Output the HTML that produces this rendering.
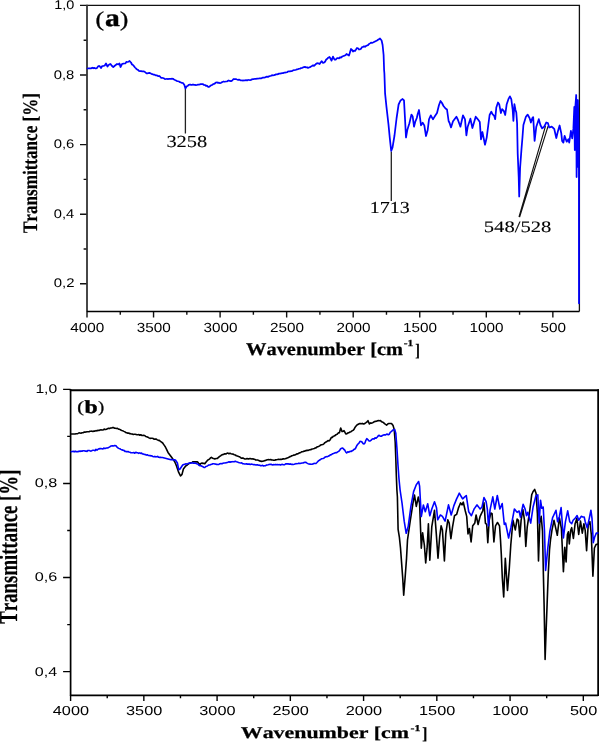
<!DOCTYPE html>
<html><head><meta charset="utf-8"><title>FTIR spectra</title><style>
html,body{margin:0;padding:0;background:#fff;width:599px;height:742px;overflow:hidden}
svg{display:block;will-change:transform}
text{fill:#000;font-kerning:none;text-rendering:geometricPrecision}
</style></head><body>
<svg width="599" height="742" viewBox="0 0 599 742">
<path d="M80 75H87 M80 144.6H87 M80 214.2H87 M80 283.8H87 M80 5.4H87 M83.6 40.2H87 M83.6 109.8H87 M83.6 179.4H87 M83.6 249H87 M87 311.4V317.6 M153.55 311.4V317.6 M220.1 311.4V317.6 M286.65 311.4V317.6 M353.2 311.4V317.6 M419.75 311.4V317.6 M486.3 311.4V317.6 M552.85 311.4V317.6 M120.275 311.4V314.8 M186.825 311.4V314.8 M253.375 311.4V314.8 M319.925 311.4V314.8 M386.475 311.4V314.8 M453.025 311.4V314.8 M519.575 311.4V314.8" stroke="#111" stroke-width="1.4" fill="none"/>
<path d="M87 5.4H579.4V311.4" stroke="#111" stroke-width="1.3" fill="none"/>
<path d="M87 4.8V312" stroke="#333" stroke-width="1.8" fill="none"/>
<path d="M87 311.4H579.4" stroke="#000" stroke-width="1.5" fill="none"/>
<text transform="translate(54.201 9.077) scale(1.148 1)" font-size="12.57" font-family="Liberation Sans, sans-serif">1,0</text>
<text transform="translate(53.72 78.677) scale(1.18 1)" font-size="12.57" font-family="Liberation Sans, sans-serif">0,8</text>
<text transform="translate(53.72 148.277) scale(1.181 1)" font-size="12.57" font-family="Liberation Sans, sans-serif">0,6</text>
<text transform="translate(53.727 217.877) scale(1.168 1)" font-size="12.57" font-family="Liberation Sans, sans-serif">0,4</text>
<text transform="translate(53.717 287.477) scale(1.186 1)" font-size="12.57" font-family="Liberation Sans, sans-serif">0,2</text>
<text transform="translate(87.3 331.57) scale(1.152 1)" font-size="13.277" font-family="Liberation Sans, sans-serif" text-anchor="middle">4000</text>
<text transform="translate(153.85 331.57) scale(1.152 1)" font-size="13.277" font-family="Liberation Sans, sans-serif" text-anchor="middle">3500</text>
<text transform="translate(220.4 331.57) scale(1.152 1)" font-size="13.277" font-family="Liberation Sans, sans-serif" text-anchor="middle">3000</text>
<text transform="translate(286.95 331.57) scale(1.152 1)" font-size="13.277" font-family="Liberation Sans, sans-serif" text-anchor="middle">2500</text>
<text transform="translate(353.5 331.57) scale(1.152 1)" font-size="13.277" font-family="Liberation Sans, sans-serif" text-anchor="middle">2000</text>
<text transform="translate(420.05 331.57) scale(1.152 1)" font-size="13.277" font-family="Liberation Sans, sans-serif" text-anchor="middle">1500</text>
<text transform="translate(486.6 331.57) scale(1.152 1)" font-size="13.277" font-family="Liberation Sans, sans-serif" text-anchor="middle">1000</text>
<text transform="translate(553.15 331.57) scale(1.152 1)" font-size="13.277" font-family="Liberation Sans, sans-serif" text-anchor="middle">500</text>
<text transform="translate(246.011 355.329) scale(1.14 1)" font-size="17.913" font-family="Liberation Serif, serif" font-weight="bold" stroke="#000" stroke-width="0.25">Wavenumber [cm</text>
<text transform="translate(403.682 346.2) scale(1.235 1)" font-size="9.24" font-family="Liberation Serif, serif" font-weight="bold" stroke="#000" stroke-width="0.25">-1</text>
<text transform="translate(415.197 355.672) scale(0.8 1)" font-size="17.399" font-family="Liberation Serif, serif" font-weight="bold" stroke="#000" stroke-width="0.25">]</text>
<text transform="translate(36.652 233.067) rotate(-90) scale(0.833 1)" font-size="20.54" font-family="Liberation Serif, serif" font-weight="bold" stroke="#000" stroke-width="0.25">Transmittance [%]</text>
<text transform="translate(95.471 25.916) scale(1.22 1)" font-size="21.065" font-family="Liberation Serif, serif" stroke="#000" stroke-width="0.35">(</text>
<text transform="translate(104.946 25.56) scale(1.207 1)" font-size="24.53" font-family="Liberation Serif, serif" font-weight="bold" stroke="#000" stroke-width="0.4">a</text>
<text transform="translate(119.897 25.916) scale(1.183 1)" font-size="21.065" font-family="Liberation Serif, serif" stroke="#000" stroke-width="0.35">)</text>
<path d="M185.4 88.9V133.4 M391.3 151.5V201" stroke="#222" stroke-width="1.3" fill="none"/>
<path d="M519 217L545.5 126.2 M519.6 217.2L548.1 126.2" stroke="#111" stroke-width="1.15" fill="none"/>
<text transform="translate(166.423 147.235) scale(1.209 1)" font-size="16.894" font-family="Liberation Serif, serif" stroke="#000" stroke-width="0.12">3258</text>
<text transform="translate(369.84 213.436) scale(1.19 1)" font-size="16.819" font-family="Liberation Serif, serif" stroke="#000" stroke-width="0.12">1713</text>
<text transform="translate(483.804 231.544) scale(1.291 1)" font-size="15.951" font-family="Liberation Serif, serif" stroke="#000" stroke-width="0.12">548/528</text>
<path d="M63.1 389.35H70.6 M63.1 483.45H70.6 M63.1 577.55H70.6 M63.1 671.65H70.6 M67.2 436.4H70.6 M67.2 530.5H70.6 M67.2 624.6H70.6 M70.6 695.3V700.9 M143.845 695.3V700.9 M217.09 695.3V700.9 M290.335 695.3V700.9 M363.58 695.3V700.9 M436.825 695.3V700.9 M510.07 695.3V700.9 M583.315 695.3V700.9 M107.222 695.3V698.3 M180.468 695.3V698.3 M253.713 695.3V698.3 M326.957 695.3V698.3 M400.202 695.3V698.3 M473.447 695.3V698.3 M546.692 695.3V698.3" stroke="#000" stroke-width="1.4" fill="none"/>
<path d="M70.6 695.3H598.2 M70.6 389V696.1" stroke="#000" stroke-width="1.7" fill="none"/>
<path d="M69.8 390.15H599" stroke="#000" stroke-width="2.0" fill="none"/>
<path d="M598.2 389.2V696" stroke="#000" stroke-width="1.9" fill="none"/>
<text transform="translate(35.405 393.226) scale(1.234 1)" font-size="12.712" font-family="Liberation Sans, sans-serif">1,0</text>
<text transform="translate(34.767 487.326) scale(1.275 1)" font-size="12.712" font-family="Liberation Sans, sans-serif">0,8</text>
<text transform="translate(34.766 581.426) scale(1.276 1)" font-size="12.712" font-family="Liberation Sans, sans-serif">0,6</text>
<text transform="translate(34.773 675.526) scale(1.262 1)" font-size="12.712" font-family="Liberation Sans, sans-serif">0,4</text>
<text transform="translate(70.9 715.373) scale(1.254 1)" font-size="12.994" font-family="Liberation Sans, sans-serif" text-anchor="middle">4000</text>
<text transform="translate(144.145 715.373) scale(1.254 1)" font-size="12.994" font-family="Liberation Sans, sans-serif" text-anchor="middle">3500</text>
<text transform="translate(217.39 715.373) scale(1.254 1)" font-size="12.994" font-family="Liberation Sans, sans-serif" text-anchor="middle">3000</text>
<text transform="translate(290.635 715.373) scale(1.254 1)" font-size="12.994" font-family="Liberation Sans, sans-serif" text-anchor="middle">2500</text>
<text transform="translate(363.88 715.373) scale(1.254 1)" font-size="12.994" font-family="Liberation Sans, sans-serif" text-anchor="middle">2000</text>
<text transform="translate(437.125 715.373) scale(1.254 1)" font-size="12.994" font-family="Liberation Sans, sans-serif" text-anchor="middle">1500</text>
<text transform="translate(510.37 715.373) scale(1.254 1)" font-size="12.994" font-family="Liberation Sans, sans-serif" text-anchor="middle">1000</text>
<text transform="translate(583.615 715.373) scale(1.254 1)" font-size="12.994" font-family="Liberation Sans, sans-serif" text-anchor="middle">500</text>
<text transform="translate(240.79 738.051) scale(1.333 1)" font-size="16.42" font-family="Liberation Serif, serif" font-weight="bold" stroke="#000" stroke-width="0.25">Wavenumber [cm</text>
<text transform="translate(410.462 730.7) scale(1.337 1)" font-size="8.937" font-family="Liberation Serif, serif" font-weight="bold" stroke="#000" stroke-width="0.25">-1</text>
<text transform="translate(422.348 738.637) scale(0.903 1)" font-size="16.916" font-family="Liberation Serif, serif" font-weight="bold" stroke="#000" stroke-width="0.25">]</text>
<text transform="translate(16.841 623.694) rotate(-90) scale(0.728 1)" font-size="25.857" font-family="Liberation Serif, serif" font-weight="bold" stroke="#000" stroke-width="0.25">Transmittance [%]</text>
<text transform="translate(77.127 412.266) scale(1.268 1)" font-size="15.661" font-family="Liberation Serif, serif" stroke="#000" stroke-width="0.35">(</text>
<text transform="translate(84.5 412.52) scale(1.281 1)" font-size="18.476" font-family="Liberation Serif, serif" font-weight="bold" stroke="#000" stroke-width="0.4">b</text>
<text transform="translate(98.135 412.266) scale(1.119 1)" font-size="15.661" font-family="Liberation Serif, serif" stroke="#000" stroke-width="0.35">)</text>
<path d="M87.5 68.5 88.45 68.45 89.4 68.4 90.35 68.35 91.3 68.3 92.25 67.726 93.2 68.288 94.15 67.89 95.1 68.308 96.05 68.301 97 68 98.25 66.131 99.5 66 101 68 102.25 66.026 103.5 66 104.75 65.425 106 63.5 107.5 66.5 108.5 65.185 109.5 64.302 110.5 64 112 66 113.25 66.991 114.5 66 115.75 64.941 117 64 118.25 64.423 119.5 63.5 120.5 67 122 64 123.25 63.703 124.5 63.5 125.5 63.278 126.5 61.801 127.5 62 128.55 61.77 129.6 61 131 62.5 132 64.486 133 65 134 66.183 135 67.502 136 68.5 137 69.453 138 69.861 139 71 140 71.181 141 71 142 71.314 143 71.361 144 71.422 145 72 146 73.006 147 73.5 148.25 73.131 149.5 72.8 150.417 73.32 151.333 73.799 152.25 74.05 153.167 74.561 154.083 74.56 155 75 155.9 75.411 156.8 75.361 157.7 75.905 158.6 76.065 159.5 76 161 77.8 162 77.758 163 78.025 164 78.322 165 79.086 166 79 167 78.927 168 79.032 169 78.775 170 78.891 171 78.777 172 78.724 173 78.8 174 79.46 175 80 176 80.434 177 81.033 178 81.252 179 81.5 180 82.175 181 82.499 182 82.969 183 83 184.4 85 185.4 88.5 186.6 86.5 187.8 85.77 189 84.8 190 84.489 191 84.902 192 84.9 193 84.5 194 84.908 195 84.798 196 85.025 197 85 198 84.548 199 84.732 200 84.301 201 84 202 84.099 203 84.194 204 84.998 205 85 205.95 85.843 206.9 85.712 207.85 86.71 208.8 87 209.867 86.271 210.933 85.422 212 85 213 84.231 214 83.938 215 83.386 216 82.5 217 82.356 218 82.93 219 82.706 220 83.2 221.167 82.786 222.333 81.948 223.5 81.5 224.75 81.767 226 81.5 227.25 81.336 228.5 80.5 229.75 80.854 231 81.2 232.25 80.449 233.5 79 234.667 79.033 235.833 79.037 237 79.5 238 79.82 239 79.672 240 80.038 241 80.5 242 80.436 243 80.577 244 80.259 245 80.5 246 80.055 247 80.507 248 79.995 249 80 250 80.121 251 79.878 252 79.314 253 79.172 254 79.014 255 78.8 256 78.801 257 78.667 258 78.541 259 78.484 260 78.3 261 78.428 262 77.945 263 77.712 264 77.734 265 77.4 266 76.936 267 76.701 268 76.894 269 76.295 270 76 271 75.814 272 75.218 273 75.281 274 75.176 275 74.9 276 74.304 277 74.461 278 74.213 279 73.552 280 73.6 281 73.489 282 73.176 283 73.125 284 72.697 285 72.6 286 72.485 287 72.247 288 71.486 289 71.252 290 71.3 291 71.163 292 71.104 293 70.346 294 70.229 295 70 296 69.785 297 69.314 298 69.065 299 68.749 300 68.6 301 68.168 302 67.987 303 67.44 304 67.154 305 66.9 306 67.424 307 67.236 308 67.9 309 67.515 310 67.198 311 66.6 312 65.896 313 65.356 314 65.886 315 65 316 63.982 317 63.3 318 63.2 319.6 64 320.6 62.496 321.6 61.2 323 62.8 324 62.617 325 61.8 326 59.763 327 59 328.25 57.715 329.5 57 330.5 58.534 331.5 60.6 333 56.6 334.5 59.6 335.667 59.6 336.833 58.435 338 58 339 58.436 340 57.204 341 57.6 342.25 56.539 343.5 56 344.5 55.574 345.5 55.283 346.5 54 347.75 54.672 349 55.5 351 49 352 49.81 353 51.5 354 50.643 355 51 356 49.547 357 48 358 48.255 359 49.5 360 49.366 361 48.792 362 47.119 363 47 364 46.312 365 46.825 366 46 367 45.56 368 45.157 369 44 370 43.377 371 42.658 372 42.875 373 42.5 374 42 375 41.5 376 41 377 40.5 378 39.833 379 39.167 380 38.5 381.6 40.5 382.6 45 383.6 55 384.1 70 384.4 73.5 385.1 93.7 386.5 107.2 388.5 124.7 389.8 138.2 391.2 150.8 392.5 147.6 394.5 135.5 396.6 118 398.6 104.5 399.6 102.45 400.6 100.4 401.6 99.7 402.6 99 404 100.4 404.9 116.6 406 137.5 407.3 130 409.4 123.3 411.4 114.6 412.7 116.6 414 126.7 415.4 121.3 416.8 118 417.7 114 419 110 421 125.4 422.7 122.7 424.3 125.4 426 136 427.7 130 429 119.3 429.9 117.3 430.8 115.3 431.9 117.3 433 119.3 434 117.65 435 116 436 114.5 437 113 439 105 440.5 101 442 103 443.5 106 444.5 107.25 445.5 108.5 447 109.5 448.6 121 449.6 123 451 127.4 453 121.3 454.133 119.767 455.267 118.233 456.4 116.7 458 120 460.4 126.7 463 115.3 464 117.3 465 119.3 466.4 135.4 467.7 126.7 470.4 118.7 472.4 128 475.7 116.7 477.05 118.35 478.4 120 479.8 122 481 139.4 482.4 132 485 144.7 486.7 137.6 488.3 125 489.6 115 491.3 111.7 492.5 114.2 494.2 115.9 495.2 119.2 496.3 107.5 498 102.5 499.2 104.2 500.9 113 502.1 109.2 503.8 110.9 505.2 115 506.7 104.2 508.4 99.2 509.9 96.3 511.3 99.2 512.7 110 513.4 120.9 514.4 104.2 515.5 110 516.3 112.5 517.1 123.4 517.7 153.6 518.7 177.2 519.2 196.5 520.1 167.7 521.5 148.9 522.5 137 523.4 125 525.9 116.7 526.8 115.65 527.7 114.6 528.7 116.5 529.7 118.4 530.9 122.6 532.2 118.4 533.2 117.1 534.6 140.9 536.3 126.7 538.8 119.2 540.4 125 542.1 128.4 543.15 127.55 544.2 126.7 545.25 124.6 546.3 122.5 547.9 123 549.2 127.5 550.45 127.1 551.7 126.7 552.95 127.75 554.2 128.8 556.3 138 558 130.9 559.6 125.5 561.3 133.4 562.1 140.9 563.4 142.6 564.6 135.9 566.7 141.7 568.4 139.2 569.2 142.6 570.9 130.9 572.2 138.4 573.4 128.4 574.3 107 574.8 150 575.4 106 576.2 95 576.6 177 577.1 110 577.5 167 577.9 100 578.9 140 579 303.3" stroke="#0000ff" stroke-width="1.75" fill="none" stroke-linejoin="round" stroke-linecap="round"/>
<path d="M71.3 434 72.257 434 73.214 433.998 74.171 433.949 75.129 433.967 76.086 433.739 77.043 433.781 78 433.4 79 432.895 80 433.026 81 433.185 82 432.804 83 432.806 84 432.079 85 432.153 86 432 87 431.71 88 431.806 89 431.714 90 431.209 91 431.239 92 431.171 93 431.504 94 431.1 95 431.149 96 430.587 97 430.896 98 430.297 99 430.495 100 430.014 101 429.789 102 430 102.9 430.043 103.8 429.363 104.7 429.151 105.6 429.471 106.5 429.177 107.4 428.7 108.46 428.333 109.52 428.583 110.58 428.067 111.64 427.944 112.7 427.6 113.64 427.553 114.58 428.229 115.52 428.213 116.46 428.567 117.4 428.4 118.533 429.209 119.667 429.326 120.8 430 121.84 430.443 122.88 430.846 123.92 431.372 124.96 431.856 126 432.7 126.9 432.778 127.8 433.206 128.7 433.002 129.6 433.691 130.5 433.67 131.4 434 132.343 433.967 133.286 434.423 134.229 434.287 135.171 434.271 136.114 434.487 137.057 434.743 138 434.7 138.917 434.507 139.833 435.266 140.75 434.716 141.667 435.342 142.583 435.525 143.5 435.4 144.6 435.496 145.7 436.468 146.8 436.7 147.867 437.173 148.933 437.888 150 438.4 151.06 438.176 152.12 438.323 153.18 438.537 154.24 439.199 155.3 439 156.3 439.138 157.3 439.879 158.3 440.351 159.3 440.4 160.433 441.267 161.567 442.133 162.7 443 163.6 444.333 164.5 445.667 165.4 447 166.7 449.7 168 452.4 169.133 453.933 170.267 455.467 171.4 457 172.5 458.567 173.6 460.133 174.7 461.7 175.7 464.05 176.7 466.4 178.7 472.4 179.6 474.2 180.5 476 182 474.4 183.4 469 184.7 467.35 186 465.7 187 465.334 188 464.241 189 463.573 190 463 191 462.692 192 462.543 193 461.751 194 461.7 195.133 461.874 196.267 461.908 197.4 461.7 198.7 463.302 200 464.4 201 463.376 202 463 202.933 463.545 203.867 463.18 204.8 463.7 206.1 461.939 207.4 460.4 208.4 459.703 209.4 459.143 210.4 457.963 211.4 457.3 212.533 458.164 213.667 458.465 214.8 459 216.1 458.569 217.4 458.4 218.533 457.372 219.667 456.374 220.8 455.7 221.8 454.905 222.8 454.454 223.8 454.332 224.8 453.7 225.84 453.968 226.88 453.303 227.92 453.144 228.96 453.721 230 453.3 231.06 453.663 232.12 453.914 233.18 454.136 234.24 454.726 235.3 455 236.38 455.768 237.46 456.049 238.54 456.565 239.62 456.849 240.7 457.7 241.76 458.251 242.82 457.893 243.88 458.475 244.94 458.977 246 459 247 458.591 248 458.862 249 458.865 250 458.4 250.957 458.72 251.914 459.059 252.871 458.81 253.829 459.268 254.786 459.297 255.743 460.013 256.7 460 257.7 460.073 258.7 460.401 259.7 461 260.7 461.113 261.7 461.417 262.7 461.3 263.64 460.947 264.58 460.652 265.52 460.501 266.46 460.005 267.4 459.7 268.46 459.614 269.52 459.753 270.58 459.633 271.64 459.854 272.7 460 273.657 460.27 274.614 460.179 275.571 459.875 276.529 459.714 277.486 459.53 278.443 459.284 279.4 459.5 280.343 459.183 281.286 459.383 282.229 459.286 283.171 458.774 284.114 458.915 285.057 458.75 286 458.4 286.971 458.122 287.943 457.686 288.914 457.339 289.886 456.647 290.857 456.472 291.829 455.761 292.8 455.5 293.8 455.102 294.8 454.914 295.8 454.471 296.8 453.806 297.8 453.874 298.8 453.28 299.8 452.844 300.8 452.4 301.84 451.698 302.88 451.713 303.92 451.145 304.96 451.08 306 450.6 307 450.374 308 450.422 309 450.103 310 449.8 311.06 449.648 312.12 448.974 313.18 448.821 314.24 448.526 315.3 448 316.38 447.63 317.46 446.695 318.54 446.44 319.62 445.859 320.7 445 321.76 444.664 322.82 444.467 323.88 443.839 324.94 442.625 326 442 327 441.541 328 440.533 329 440.971 330 440 331.4 437.4 332.32 437.472 333.24 436.288 334.16 436.048 335.08 435.548 336 434.7 337.133 434.356 338.267 432.907 339.4 432.7 340.7 428 342 431.4 343 431.443 344 430.7 345 432.463 346 434 347 433.732 348 432.889 349 432.673 350 432 351 431.735 352 430.892 353 430.359 354 429.4 355.133 427.172 356.267 425.791 357.4 424.7 358.7 423.967 360 423.4 361.133 423.81 362.267 423.407 363.4 424 364.7 423.61 366 422.7 367 421.883 368 420.7 369.4 424 370.533 422.925 371.667 423.094 372.8 422.7 373.743 422.031 374.686 421.504 375.629 421.33 376.571 421.301 377.514 420.826 378.457 420.556 379.4 420.7 380.425 420.55 381.45 421.651 382.475 422.032 383.5 422.7 384.533 423.657 385.567 424.426 386.6 425.1 387.7 423.933 388.8 423.5 390.15 423.5 391.5 423.5 393.1 425.6 394.2 429.4 395.2 442.3 395.8 458.5 396.3 474.7 396.9 490 397.4 497 398.1 529.3 399.4 537.4 400.5 548 401.3 558.9 402.7 577.7 403.7 595.2 405.1 577.7 406.5 558.9 407.5 540 410.2 521.2 412.9 503.7 414.5 495 416.3 506.4 418.3 497 419.6 503.7 421.3 548.2 422.6 532.7 424.4 545.5 425.7 563 427.1 548.2 428.4 523.9 429.8 560.3 431.8 526.6 434.5 510.4 436.3 533.9 438 558.2 439.7 536.6 441.1 525.8 442.4 529.9 444.4 560.9 445.8 533.9 447.8 519.8 449.2 523.1 450.9 538.6 452.5 527.2 454.5 515.7 455.55 515.05 456.6 514.4 458.6 507.6 459.6 505.25 460.6 502.9 462 504.9 463.3 502.2 465.3 511 466.7 516.4 468 533.9 469.4 528.5 471.1 542 472.7 525.8 473.75 524.45 474.8 523.1 476.1 515 478.1 524.5 480.1 516.4 481.4 513.7 482.7 511 484 502.9 485.4 523.1 486.7 524.5 487.8 542.7 489.2 520.4 490.8 513 492.1 513.7 493.9 542 495.5 525.8 496.5 524.15 497.5 522.5 498.5 524.15 499.5 525.8 500.5 540 501.3 554.2 502.3 577.7 503.7 597 505.3 558.4 507.5 590.5 509.3 568.3 510.8 544.7 513 520.4 515.3 529.9 517.1 519.1 518.4 520.4 519.8 536.6 521.1 520.4 522.9 509.6 524.5 520.4 525.8 546.5 527.2 527.2 529.7 511 531.7 494.8 533.1 491.5 534.7 489.4 536.1 493.5 537.4 513.7 538.5 560.9 539.8 523.1 541.2 516.4 542.5 531.2 543.4 574.8 544.1 604.5 545.1 659.4 546 634 547.1 604.5 548.2 575 549.5 550 550.5 540 552 529.9 554 520.4 557.3 535.3 559.4 517.7 561.4 528.5 563.4 571.6 564.8 547.4 566.1 562 567.4 534.5 568.4 531.8 569.3 543.9 570.7 530.4 571.7 527.7 573.4 538.5 575.1 523.7 576.9 518.3 578.7 534.5 580.5 521 582.3 533.1 583.9 523.7 585.2 530.4 586.6 550.6 588.2 525 589.9 521.7 591.3 534.5 592.9 576.3 594.4 548 596 544.6 597 544.3 598 544" stroke="#000" stroke-width="1.6" fill="none" stroke-linejoin="round" stroke-linecap="round"/>
<path d="M71.3 451.7 72.257 451.489 73.214 451.281 74.171 451.881 75.129 451.187 76.086 451.743 77.043 451.539 78 451.7 79 451.095 80 451.559 81 450.92 82 451.32 83 450.809 84 450.759 85 451.084 86 451.1 87 451.392 88 450.449 89 450.468 90 450.853 91 451.137 92 450.593 93 450.276 94 450.3 95 450.672 96 449.356 97 450.13 98 449.248 99 448.873 100 448.641 101 448.67 102 448.7 102.9 448.963 103.8 448.084 104.7 448.448 105.6 448.4 106.5 447.964 107.4 448 108.7 447.407 110 446.7 111.133 445.942 112.267 445.705 113.4 446 114.7 445.547 116 445.8 117 447.116 118 448 118.933 448.38 119.867 448.71 120.8 449.4 121.84 449.903 122.88 450.144 123.92 450.36 124.96 451.353 126 451.4 126.971 451.825 127.943 451.464 128.914 452.046 129.886 452.173 130.857 452.779 131.829 452.79 132.8 452.7 133.8 452.446 134.8 453.276 135.8 452.242 136.8 452.7 137.757 452.787 138.714 453.38 139.671 452.84 140.629 453.43 141.586 453.076 142.543 454.016 143.5 454 144.429 454.546 145.357 454.545 146.286 455.136 147.214 454.691 148.143 455.377 149.071 455.485 150 455.6 150.957 455.867 151.914 455.89 152.871 456.522 153.829 456.819 154.786 456.426 155.743 456.826 156.7 456.8 157.657 456.401 158.614 457.299 159.571 457.362 160.529 457.314 161.486 457.443 162.443 457.571 163.4 457.7 164.343 457.957 165.286 458.214 166.229 458.471 167.171 458.729 168.114 458.986 169.057 459.243 170 459.5 170.9 459.583 171.8 459.667 172.7 459.75 173.6 459.833 174.5 459.917 175.4 460 176.4 461.5 177.4 463 178.7 469.7 180 469 181.35 467 182.7 465 183.8 464.567 184.9 464.133 186 463.7 186.9 463.978 187.8 463.724 188.7 463.178 189.6 463.142 190.5 463.252 191.4 463 192.46 462.758 193.52 463.249 194.58 463.154 195.64 463.254 196.7 463.7 197.8 464.014 198.9 465.248 200 465.7 200.96 465.763 201.92 466.218 202.88 466.693 203.84 467.437 204.8 467.5 205.8 466.539 206.8 466.209 207.8 465.665 208.8 465 209.8 464.982 210.8 464.605 211.8 464.316 212.8 463.7 213.8 463.698 214.8 463.982 215.8 464.112 216.8 464.4 217.84 464.567 218.88 464.486 219.92 463.701 220.96 463.581 222 463.7 223 463.236 224 462.987 225 462.938 226 462.7 227 462.621 228 462.21 229 461.853 230 462.1 231.06 461.875 232.12 461.675 233.18 461.673 234.24 461.822 235.3 461.3 236.38 461.792 237.46 461.992 238.54 462.414 239.62 462.801 240.7 463 241.657 462.8 242.614 463.634 243.571 463.695 244.529 463.928 245.486 464.024 246.443 463.857 247.4 464.1 248.343 464.119 249.286 463.983 250.229 464.507 251.171 464.15 252.114 464.254 253.057 464.467 254 464.8 254.957 464.658 255.914 464.929 256.871 464.828 257.829 464.914 258.786 465.164 259.743 465.253 260.7 465.7 261.64 465.591 262.58 465.32 263.52 465.999 264.46 465.791 265.4 465.7 266.32 465.159 267.24 464.982 268.16 464.798 269.08 464.551 270 464.4 270.957 464.155 271.914 464.793 272.871 464.966 273.829 464.601 274.786 464.673 275.743 464.412 276.7 464.8 277.657 464.482 278.614 464.674 279.571 464.612 280.529 465.063 281.486 464.529 282.443 464.418 283.4 464.8 284.7 464.611 286 463.7 287.08 463.863 288.16 463.697 289.24 464.155 290.32 463.882 291.4 464.4 292.3 464.306 293.2 464.549 294.1 464.341 295 464.09 295.9 463.626 296.8 463.7 297.86 463.453 298.92 463.154 299.98 463.498 301.04 463.166 302.1 463 303.075 463.073 304.05 462.564 305.025 462.328 306 462.4 307 463.074 308 463.638 309 463.957 310 464.1 311 464.228 312 464.121 313 463.942 314 463.415 315 463.531 316 463.4 316.94 462.484 317.88 461.423 318.82 460.622 319.76 460.024 320.7 459.4 321.76 458.667 322.82 458.474 323.88 458.145 324.94 457.198 326 456.7 327.08 456.65 328.16 456.29 329.24 455.864 330.32 454.883 331.4 454.7 332.46 453.853 333.52 453.463 334.58 453.015 335.64 452.627 336.7 452.7 337.7 451.899 338.7 451.34 339.7 450.245 340.7 448.7 341.7 448.317 342.7 448 343.7 449.245 344.7 450 345.7 451.979 346.7 453 347.8 451.802 348.9 452.19 350 451.4 351.08 451.516 352.16 450.772 353.24 450.18 354.32 449.205 355.4 448.7 356.7 445.836 358 444 359 443.163 360 441.4 361 441.432 362 442 363 443.481 364 444 364.933 442.988 365.867 440.3 366.8 438.7 367.8 439.542 368.8 440.7 369.86 441.095 370.92 440.42 371.98 439.212 373.04 438.823 374.1 439.1 375.1 437.767 376.1 438.198 377.1 437.265 378.1 436 379.18 435.254 380.26 436.162 381.34 436.228 382.42 435.532 383.5 435.1 384.44 434.801 385.38 435.058 386.32 434.33 387.26 434.083 388.2 434.8 389.3 434.203 390.4 432.1 391.3 431.639 392.2 430.7 393.1 430 394.7 429.4 395.8 433.2 396.9 447.7 397.9 463.9 399 479 400.1 490 402.1 503.7 404.2 521.2 406.2 533.3 408.2 526.6 410.9 506.4 413.6 491.6 416.3 484.8 417.45 483.15 418.6 481.5 419.6 486.2 421.3 516.5 423.4 505 425.3 511.8 427.7 503.7 429.8 515.8 431.8 509.1 434.5 501.7 436.5 507.7 437.7 519.8 439.05 517.4 440.4 515 441.4 515.7 442.4 516.4 443.3 517.967 444.2 519.533 445.1 521.1 448.5 504.9 451.2 515 453.9 505.6 454.8 503.367 455.7 501.133 456.6 498.9 457.95 496.05 459.3 493.2 460.4 495.1 461.5 497 462.6 498.9 463.525 498.05 464.45 497.2 465.375 496.35 466.3 495.5 468.7 511.7 470.05 513.7 471.4 515.7 472.3 513.467 473.2 511.233 474.1 509 475.067 507.633 476.033 506.267 477 504.9 478.033 506.267 479.067 507.633 480.1 509 481.05 508 482 507 484 497.5 485.05 499.55 486.1 501.6 487.4 509.6 488.4 525.8 490.1 509.6 492.8 496.8 494.8 509 497.3 495.5 499.9 509 501.05 506.3 502.2 503.6 504.3 524.5 505.6 523.1 508.6 538 511 527.2 514.4 509 515.3 510.1 516.2 511.2 517.1 512.3 518.1 511.65 519.1 511 520.4 517.1 523.1 504.3 524.1 506.65 525.1 509 526.5 515.7 527.8 512.3 530.7 523.1 533.1 507 535.8 496.2 536.8 495.5 537.8 494.8 539.2 523.1 540.5 500.2 541.8 508.3 543.2 507 544.5 531.2 545.6 570.4 547.9 547.4 549.9 531.2 552.6 517.7 553.733 515.233 554.867 512.767 556 510.3 557.6 521.8 559.4 516.4 561.1 507.6 563.4 538 565.4 521.8 567.7 510.9 569.7 521.7 570.7 522.7 571.7 523.7 573.1 520.3 574.1 519.3 575.1 518.3 576.1 516.95 577.1 515.6 578.7 520.3 579.95 518.3 581.2 516.3 582.8 517 584.2 517 585.2 521.7 587.2 527.7 589.3 518.3 590.9 510.2 592 518.3 593.3 542.6 594.6 537.2 596.3 533.1 598 533" stroke="#0000ff" stroke-width="1.6" fill="none" stroke-linejoin="round" stroke-linecap="round"/>
</svg>
</body></html>
